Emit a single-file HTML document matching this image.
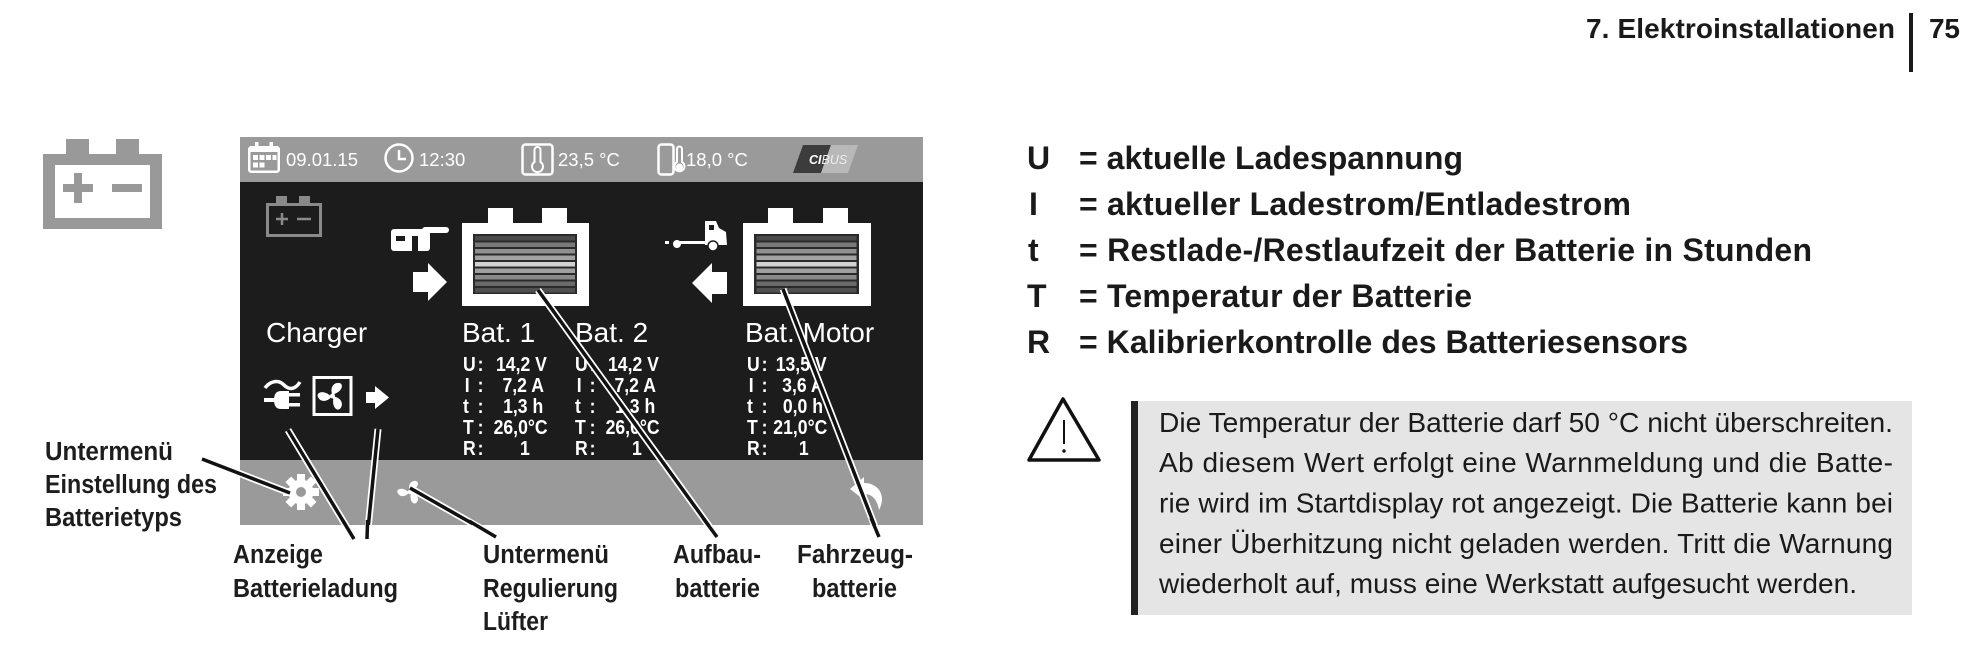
<!DOCTYPE html>
<html><head><meta charset="utf-8">
<style>
html,body{margin:0;padding:0;background:#fff;}
body{width:1982px;height:654px;overflow:hidden;position:relative;}
svg{position:absolute;left:0;top:0;}
text{font-family:"Liberation Sans",Arial,sans-serif;}
</style></head><body>
<svg width="1982" height="654" viewBox="0 0 1982 654" xmlns="http://www.w3.org/2000/svg">
<defs>
<path id="blade" d="M0,-1 C-3,-8 1,-14 7,-13 C11,-12 10,-6 4,-3 Z"/>
<g id="stripes">
<rect x="0" y="0" width="100" height="4.5" fill="#4a4a4a"/>
<rect x="0" y="6.5" width="100" height="4.5" fill="#7a7a7a"/>
<rect x="0" y="13" width="100" height="4.5" fill="#909090"/>
<rect x="0" y="19.5" width="100" height="4.5" fill="#a2a2a2"/>
<rect x="0" y="26" width="100" height="4.5" fill="#d2d2d2"/>
<rect x="0" y="32.5" width="100" height="4.5" fill="#a0a0a0"/>
<rect x="0" y="39" width="100" height="4.5" fill="#8a8a8a"/>
<rect x="0" y="45.5" width="100" height="4.5" fill="#6a6a6a"/>
<rect x="0" y="52" width="100" height="4.5" fill="#505050"/>
</g>
</defs>

<!-- big battery icon -->
<g fill="#999">
<rect x="66" y="139" width="23" height="16"/>
<rect x="116" y="139" width="23" height="16"/>
<path d="M43,154 H162 V229 H43 Z M55,165 V218 H150 V165 Z" fill-rule="evenodd"/>
<rect x="63" y="184" width="30" height="8"/>
<rect x="74" y="173" width="8" height="30"/>
<rect x="112" y="184" width="30" height="8"/>
</g>

<!-- screen -->
<rect x="240" y="137" width="683" height="45" fill="#9a9a9a"/>
<rect x="240" y="182" width="683" height="278" fill="#1c1c1c"/>
<rect x="240" y="460" width="683" height="65" fill="#9a9a9a"/>

<!-- top bar icons -->
<g fill="#fff">
<rect x="255" y="142" width="3.5" height="7"/>
<rect x="269.5" y="142" width="3.5" height="7"/>
<rect x="249" y="147" width="30" height="5"/>
<rect x="253" y="155" width="5" height="5"/><rect x="259.5" y="155" width="5" height="5"/><rect x="266" y="155" width="5" height="5"/><rect x="272.5" y="155" width="4" height="5"/>
<rect x="253" y="162.5" width="5" height="5"/><rect x="259.5" y="162.5" width="5" height="5"/>
</g>
<g stroke="#fff" fill="none" stroke-width="2.5">
<rect x="249.25" y="147.25" width="29.5" height="24.5" rx="2"/>
<circle cx="399" cy="158" r="13.5"/>
<path d="M399,150 V159 H406"/>
<rect x="522.5" y="144.5" width="30" height="30" rx="3"/>
<path d="M534.5,150 a3,3 0 0 1 6,0 v12 a5.5,5.5 0 1 1 -6,0 z" stroke-width="2"/>
<rect x="658.5" y="144.5" width="15" height="30" rx="3"/>
<path d="M677,149 a2.5,2.5 0 0 1 5,0 v13 a5,5 0 1 1 -5,0 z" stroke-width="2"/>
</g>
<circle cx="679.5" cy="167" r="3.5" fill="#fff"/>
<g font-size="18.5" fill="#fff">
<text x="286" y="166">09.01.15</text>
<text x="419" y="166">12:30</text>
<text x="558" y="166">23,5 °C</text>
<text x="686" y="166">18,0 °C</text>
</g>
<polygon points="803,145 831,145 821,173 793,173" fill="#3c3c3c"/>
<polygon points="831,145 858,145 848,173 821,173" fill="#b8b8b8"/>
<text x="809" y="164" font-size="12.5" font-style="italic" font-weight="bold" fill="#fff">CI<tspan font-weight="normal" fill="#eeeeee">BUS</tspan></text>

<!-- small gray battery -->
<g fill="none" stroke="#8a8a8a" stroke-width="3">
<rect x="267.5" y="204.5" width="53" height="31"/>
<path d="M276,219 H288 M282,213 V225 M297,219 H311" stroke-width="2.5"/>
</g>
<rect x="276" y="196" width="11" height="8" fill="#8a8a8a"/>
<rect x="299" y="196" width="11" height="8" fill="#8a8a8a"/>

<!-- caravan -->
<g fill="#fff">
<rect x="391" y="229" width="39" height="22" rx="3"/>
<rect x="422" y="227" width="27" height="6" rx="3"/>
</g>
<rect x="396" y="236" width="9" height="5" fill="#1c1c1c"/>
<rect x="412" y="236" width="6" height="15" fill="#1c1c1c"/>

<!-- right arrow -->
<path d="M413,272 H428 V263 L447,282 L428,301 V292 H413 Z" fill="#fff"/>

<!-- battery 1 -->
<g fill="#fff">
<rect x="488" y="208" width="25" height="16"/>
<rect x="542" y="208" width="25" height="16"/>
<rect x="462" y="223" width="127" height="83"/>
</g>
<rect x="473" y="234" width="104" height="60" fill="#2a2a2a"/>
<use href="#stripes" transform="translate(475,236)"/>

<!-- truck -->
<g fill="#fff">
<rect x="665" y="241" width="4" height="3"/>
<circle cx="677" cy="244" r="4"/>
<rect x="680" y="241" width="26" height="3"/>
<path d="M705,245 V221 H716 L719,228 L726,232 L727,245 Z"/>
</g>
<rect x="709" y="225" width="5" height="5" fill="#1c1c1c"/>
<circle cx="713" cy="246" r="5" fill="#fff" stroke="#1c1c1c" stroke-width="1.5"/>

<!-- left arrow -->
<path d="M727,272 H712 V263 L692,283 L712,303 V294 H727 Z" fill="#fff"/>

<!-- battery 2 -->
<g fill="#fff">
<rect x="768" y="208" width="25" height="16"/>
<rect x="823" y="208" width="25" height="16"/>
<rect x="743" y="223" width="128" height="83"/>
</g>
<rect x="754" y="234" width="105" height="60" fill="#2a2a2a"/>
<use href="#stripes" transform="translate(756.5,236)"/>

<!-- headings -->
<g font-size="28" fill="#fff">
<text x="266" y="342">Charger</text>
<text x="462" y="342">Bat. 1</text>
<text x="575" y="342">Bat. 2</text>
<text x="745" y="342">Bat. Motor</text>
</g>

<!-- data -->
<g font-size="20.5" font-weight="bold" fill="#fff">
<g transform="matrix(0.86,0,0,1,463,0)">
<text x="0" y="371">U</text><text x="2" y="392">I</text><text x="0" y="413">t</text><text x="0" y="434">T</text><text x="0" y="455">R</text>
<text x="17" y="371">:</text><text x="17" y="392">:</text><text x="17" y="413">:</text><text x="17" y="434">:</text><text x="17" y="455">:</text>
<g text-anchor="middle">
<text x="68" y="371">14,2 V</text><text x="70" y="392">7,2 A</text><text x="70" y="413">1,3 h</text><text x="67" y="434">26,0°C</text><text x="72" y="455">1</text>
</g>
</g>
<g transform="matrix(0.86,0,0,1,575,0)">
<text x="0" y="371">U</text><text x="2" y="392">I</text><text x="0" y="413">t</text><text x="0" y="434">T</text><text x="0" y="455">R</text>
<text x="17" y="371">:</text><text x="17" y="392">:</text><text x="17" y="413">:</text><text x="17" y="434">:</text><text x="17" y="455">:</text>
<g text-anchor="middle">
<text x="68" y="371">14,2 V</text><text x="70" y="392">7,2 A</text><text x="70" y="413">1,3 h</text><text x="67" y="434">26,0°C</text><text x="72" y="455">1</text>
</g>
</g>
<g transform="matrix(0.86,0,0,1,747,0)">
<text x="0" y="371">U</text><text x="2" y="392">I</text><text x="0" y="413">t</text><text x="0" y="434">T</text><text x="0" y="455">R</text>
<text x="17" y="371">:</text><text x="17" y="392">:</text><text x="17" y="413">:</text><text x="17" y="434">:</text><text x="17" y="455">:</text>
<g text-anchor="middle">
<text x="63" y="371">13,5 V</text><text x="65" y="392">3,6 A</text><text x="65" y="413">0,0 h</text><text x="62" y="434">21,0°C</text><text x="66" y="455">1</text>
</g>
</g>
</g>

<!-- charger icons -->
<path d="M265,388 C271,380 279,380 284,385 C289,390 295,390 300,382" stroke="#fff" stroke-width="3.5" fill="none"/>
<g fill="#fff">
<path d="M289,391 L281,391 Q274,391 274,400 Q274,409 281,409 L289,409 Z"/>
<rect x="288" y="393" width="12" height="3.5"/>
<rect x="288" y="403" width="12" height="3.5"/>
<rect x="264" y="398" width="11" height="4"/>
</g>
<rect x="314" y="377.5" width="37" height="37" stroke="#fff" stroke-width="3" fill="none"/>
<g transform="translate(332.5,396)" fill="#fff">
<use href="#blade"/>
<use href="#blade" transform="rotate(120)"/>
<use href="#blade" transform="rotate(240)"/>
<circle r="2.5"/>
</g>
<path d="M366,392 H375 V386 L389,397.5 L375,409 V403 H366 Z" fill="#fff"/>

<!-- bottom bar icons -->
<g transform="translate(301,492)" fill="#fff">
<circle r="12.5"/>
<rect x="-4" y="-18" width="8" height="8"/>
<rect x="-4" y="-18" width="8" height="8" transform="rotate(45)"/>
<rect x="-4" y="-18" width="8" height="8" transform="rotate(90)"/>
<rect x="-4" y="-18" width="8" height="8" transform="rotate(135)"/>
<rect x="-4" y="-18" width="8" height="8" transform="rotate(180)"/>
<rect x="-4" y="-18" width="8" height="8" transform="rotate(225)"/>
<rect x="-4" y="-18" width="8" height="8" transform="rotate(270)"/>
<rect x="-4" y="-18" width="8" height="8" transform="rotate(315)"/>
<circle r="5" fill="#9a9a9a"/>
</g>
<g transform="translate(410,492) scale(0.85)" fill="#fff">
<use href="#blade"/>
<use href="#blade" transform="rotate(120)"/>
<use href="#blade" transform="rotate(240)"/>
<circle r="2.5"/>
</g>
<path d="M850,489 L864,477 L864,483 C878,483 887,495 879,510 C877,499 872,494 864,494 L864,500 Z" fill="#fff"/>

<!-- leader lines -->
<g stroke="#fff" stroke-width="7" fill="none">
<line x1="202" y1="459" x2="290" y2="493"/>
<line x1="288" y1="430" x2="354" y2="539"/>
<line x1="378" y1="429" x2="367" y2="539"/>
<line x1="410" y1="488" x2="496" y2="537"/>
<line x1="538" y1="290" x2="717" y2="537"/>
<line x1="783" y1="289" x2="879" y2="537"/>
</g>
<g stroke="#111" stroke-width="3.5" fill="none">
<line x1="202" y1="459" x2="290" y2="493"/>
<line x1="288" y1="430" x2="354" y2="539"/>
<line x1="378" y1="429" x2="367" y2="539"/>
<line x1="410" y1="488" x2="496" y2="537"/>
<line x1="538" y1="290" x2="717" y2="537"/>
<line x1="783" y1="289" x2="879" y2="537"/>
</g>
<rect x="240" y="525" width="690" height="20" fill="#fff"/>
<g stroke="#111" stroke-width="3.5" fill="none">
<line x1="342.5" y1="520" x2="354" y2="539"/>
<line x1="367.6" y1="520" x2="367" y2="539"/>
<line x1="469" y1="521" x2="496" y2="537"/>
<line x1="703" y1="518" x2="717" y2="537"/>
<line x1="871" y1="518" x2="879" y2="537"/>
</g>

<!-- callout labels -->
<g font-size="25.5" font-weight="bold" fill="#1d1d1d">
<text x="45" y="460" textLength="128" lengthAdjust="spacingAndGlyphs">Untermenü</text>
<text x="45" y="493" textLength="172" lengthAdjust="spacingAndGlyphs">Einstellung des</text>
<text x="45" y="526" textLength="137" lengthAdjust="spacingAndGlyphs">Batterietyps</text>
<text x="233" y="563" textLength="90" lengthAdjust="spacingAndGlyphs">Anzeige</text>
<text x="233" y="597" textLength="165" lengthAdjust="spacingAndGlyphs">Batterieladung</text>
<text x="483" y="563" textLength="126" lengthAdjust="spacingAndGlyphs">Untermenü</text>
<text x="483" y="597" textLength="135" lengthAdjust="spacingAndGlyphs">Regulierung</text>
<text x="483" y="630" textLength="65" lengthAdjust="spacingAndGlyphs">Lüfter</text>
<text x="673" y="563" textLength="88" lengthAdjust="spacingAndGlyphs">Aufbau-</text>
<text x="675" y="597" textLength="85" lengthAdjust="spacingAndGlyphs">batterie</text>
<text x="797" y="563" textLength="116" lengthAdjust="spacingAndGlyphs">Fahrzeug-</text>
<text x="812" y="597" textLength="85" lengthAdjust="spacingAndGlyphs">batterie</text>
</g>

<!-- header -->
<text x="1586" y="38" font-size="28" font-weight="bold" fill="#1a1a1a" textLength="309">7. Elektroinstallationen</text>
<rect x="1909" y="13" width="4" height="59" fill="#1a1a1a"/>
<text x="1929" y="38" font-size="28" font-weight="bold" fill="#1a1a1a" textLength="31">75</text>

<!-- legend -->
<g font-size="32" font-weight="bold" fill="#1a1a1a">
<text x="1027" y="169">U</text>
<text x="1079" y="169" textLength="384">= aktuelle Ladespannung</text>
<text x="1029" y="215">I</text>
<text x="1079" y="215" textLength="552">= aktueller Ladestrom/Entladestrom</text>
<text x="1028" y="261">t</text>
<text x="1079" y="261" textLength="733">= Restlade-/Restlaufzeit der Batterie in Stunden</text>
<text x="1027" y="307">T</text>
<text x="1079" y="307" textLength="393">= Temperatur der Batterie</text>
<text x="1027" y="353">R</text>
<text x="1079" y="353" textLength="609">= Kalibrierkontrolle des Batteriesensors</text>
</g>

<!-- warning -->
<path d="M1063,399 L1099,460 L1029,460 Z" fill="none" stroke="#111" stroke-width="3.5" stroke-linejoin="round"/>
<line x1="1064" y1="420" x2="1064" y2="444" stroke="#111" stroke-width="2"/>
<circle cx="1064" cy="451" r="1.7" fill="#111"/>
<rect x="1131" y="401" width="781" height="214" fill="#e5e5e5"/>
<rect x="1131" y="401" width="7" height="214" fill="#222"/>
<g font-size="28" fill="#1a1a1a">
<text x="1159" y="432" textLength="734" lengthAdjust="spacingAndGlyphs">Die Temperatur der Batterie darf 50 °C nicht überschreiten.</text>
<text x="1159" y="472" textLength="734">Ab diesem Wert erfolgt eine Warnmeldung und die Batte-</text>
<text x="1159" y="512.5" textLength="734">rie wird im Startdisplay rot angezeigt. Die Batterie kann bei</text>
<text x="1159" y="553" textLength="734">einer Überhitzung nicht geladen werden. Tritt die Warnung</text>
<text x="1159" y="593" textLength="698">wiederholt auf, muss eine Werkstatt aufgesucht werden.</text>
</g>
</svg>
</body></html>
